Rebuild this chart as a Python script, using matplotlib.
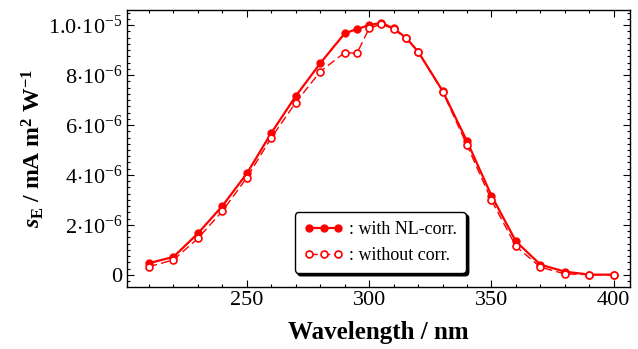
import matplotlib
matplotlib.use("Agg")
import matplotlib.pyplot as plt
from matplotlib.ticker import FixedLocator, MultipleLocator

wavelength = [210, 220, 230, 240, 250, 260, 270, 280, 290, 295, 300, 305, 310, 315,
              320, 330, 340, 350, 360, 370, 380, 390, 400]
with_nl = [0.47, 0.72, 1.66, 2.76, 4.06, 5.68, 7.16, 8.47, 9.67, 9.84, 10.0, 10.09,
           9.87, 9.50, 8.94, 7.37, 5.35, 3.17, 1.34, 0.41, 0.13, 0.01, 0.01]
without_corr = [0.33, 0.60, 1.46, 2.55, 3.89, 5.49, 6.90, 8.14, 8.90, 8.87, 9.87, 10.04,
                9.84, 9.47, 8.94, 7.34, 5.19, 2.99, 1.14, 0.31, 0.04, 0.01, 0.0]
scale = 1e-6
ytick_vals = [0, 2e-6, 4e-6, 6e-6, 8e-6, 1e-5]
ytick_labels = [r"$0$", r"$2{\cdot}10^{-6}$", r"$4{\cdot}10^{-6}$", r"$6{\cdot}10^{-6}$",
                r"$8{\cdot}10^{-6}$", r"$1.0{\cdot}10^{-5}$"]
xtick_vals = [250, 300, 350, 400]

plt.rcParams['font.family'] = ['Liberation Serif', 'DejaVu Serif']
plt.rcParams['mathtext.fontset'] = 'custom'
plt.rcParams['mathtext.rm'] = 'Liberation Serif'
plt.rcParams['mathtext.it'] = 'Liberation Serif:italic:bold'
plt.rcParams['mathtext.bf'] = 'Liberation Serif:bold'

fig = plt.figure(figsize=(6.38, 3.49), dpi=100)
ax = fig.add_axes([0.199, 0.178, 0.788, 0.793])

red = '#ff0000'
ax.plot(wavelength, [v * scale for v in with_nl], '-', color=red, lw=1.6,
        marker='o', ms=5, mfc=red, mec=red, label=': with NL-corr.')
ax.plot(wavelength, [v * scale for v in without_corr], color=red, lw=1.0,
        ls=(0, (6, 3)), marker='o', ms=5, mfc='white', mec=red, mew=1.2,
        label=': without corr.')

ax.set_xlim(201, 406.5)
ax.set_ylim(-0.48e-6, 1.06e-5)
ax.xaxis.set_major_locator(FixedLocator(xtick_vals))
ax.xaxis.set_minor_locator(MultipleLocator(10))
ax.yaxis.set_major_locator(FixedLocator(ytick_vals))
ax.yaxis.set_minor_locator(MultipleLocator(0.25e-6))
ax.set_yticklabels(ytick_labels)
ax.tick_params(which='both', direction='in', top=True, right=True, labelsize=16,
               width=0.8)
ax.tick_params(which='major', length=5, pad=3)
ax.tick_params(which='minor', length=2.5)
for s in ax.spines.values():
    s.set_linewidth(1.0)

ax.set_xlabel('Wavelength / nm', fontsize=18, fontweight='bold', labelpad=8)
ax.set_ylabel(r'$\mathit{s}_{\mathbf{E}}$' + ' / mA m' + r'$^{\mathbf{2}}$' + ' W' + r'$^{\mathbf{-1}}$',
              fontsize=17, fontweight='bold', labelpad=2)

leg = ax.legend(loc='lower left', bbox_to_anchor=(0.334, 0.05), borderaxespad=0,
                numpoints=3, fontsize=13, frameon=True, fancybox=True,
                shadow={'color': 'black', 'alpha': 1.0, 'ox': 2, 'oy': -2},
                handlelength=2.2, handletextpad=0.3, borderpad=0.5, labelspacing=0.5,
                framealpha=1)
leg.get_frame().set_edgecolor('black')
leg.get_frame().set_linewidth(1.0)

fig.savefig('out.png', dpi=100)
